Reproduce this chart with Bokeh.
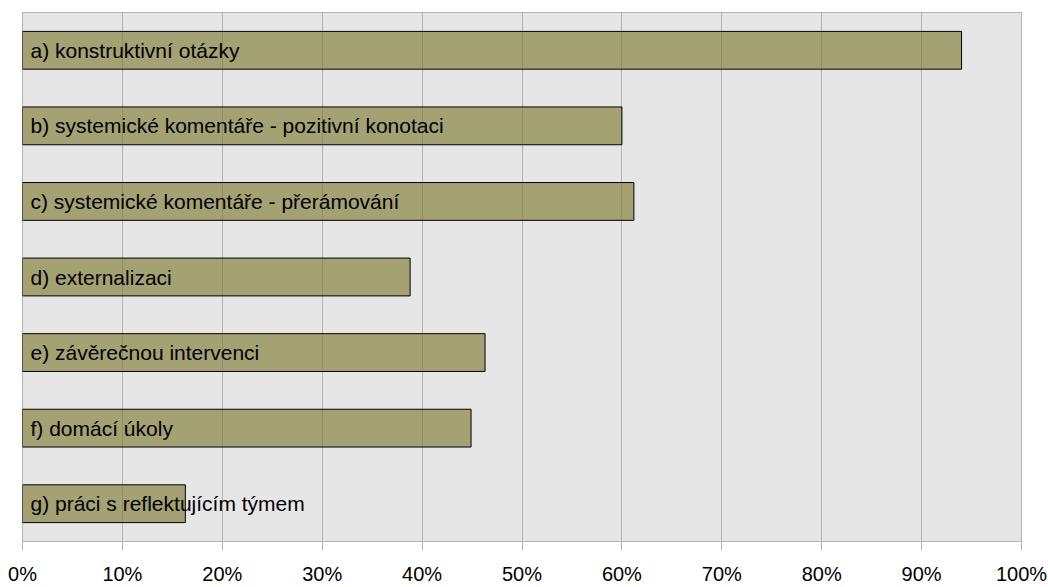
from bokeh.plotting import figure
from bokeh.models import FactorRange, Range1d, FixedTicker, PrintfTickFormatter, ColumnDataSource
from bokeh.core.properties import value
from bokeh.embed import file_html
from bokeh.resources import INLINE

categories = [
    "a) konstruktivní otázky",
    "b) systemické komentáře - pozitivní konotaci",
    "c) systemické komentáře - přerámování",
    "d) externalizaci",
    "e) závěrečnou intervenci",
    "f) domácí úkoly",
    "g) práci s reflektujícím týmem",
]
percent = [94.0, 60.0, 61.2, 38.8, 46.3, 44.9, 16.3]
tick_values = [0, 10, 20, 30, 40, 50, 60, 70, 80, 90, 100]

src = ColumnDataSource(dict(cat=categories, val=percent, zero=[0] * len(categories)))

p = figure(
    width=1048, height=587,
    y_range=FactorRange(factors=categories[::-1]),
    x_range=Range1d(0, 100),
    output_backend="svg", toolbar_location=None,
    min_border_left=22, min_border_right=27, min_border_top=12, min_border_bottom=44,
)
p.background_fill_color = "#e6e6e6"
p.border_fill_color = "white"
p.outline_line_color = "#b3b3b3"
p.outline_line_width = 1

p.hbar(y="cat", left=0, right="val", height=0.5, source=src,
       fill_color="#787525", fill_alpha=0.6, line_color="black", line_width=1)

p.text(x="zero", y="cat", text="cat", source=src, x_offset=8,
       text_font=value("Liberation Sans"), text_font_size="21px",
       text_baseline="middle", text_align="left", text_color="black")

p.xgrid.ticker = FixedTicker(ticks=tick_values)
p.xgrid.grid_line_color = "#b3b3b3"
p.xgrid.grid_line_width = 1
p.ygrid.grid_line_color = None

p.yaxis.visible = False
xa = p.xaxis[0]
xa.ticker = FixedTicker(ticks=tick_values)
xa.formatter = PrintfTickFormatter(format="%d%%")
xa.axis_line_color = "#b3b3b3"
xa.major_tick_line_color = "#b3b3b3"
xa.major_tick_out = 9
xa.major_tick_in = 0
xa.minor_tick_line_color = None
xa.major_label_standoff = 12
xa.major_label_text_font = "Liberation Sans"
xa.major_label_text_font_size = "20px"
xa.major_label_text_color = "black"

open("out.html", "w").write(file_html(p, INLINE))
